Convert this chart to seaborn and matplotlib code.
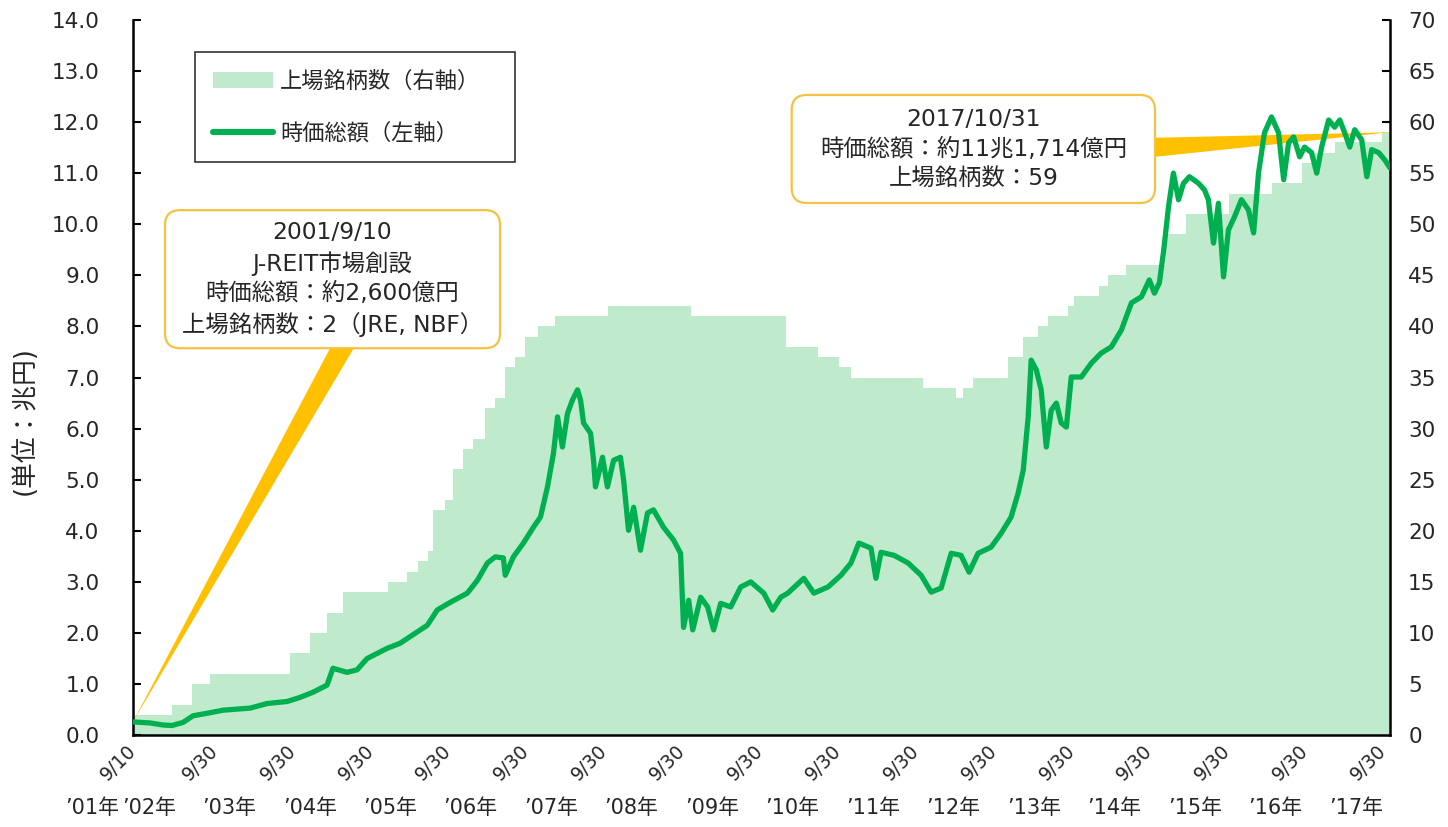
import matplotlib
matplotlib.use('Agg')
import matplotlib.pyplot as plt
import matplotlib.dates as mdates
from matplotlib.patches import Patch, Polygon, FancyBboxPatch
from matplotlib.lines import Line2D
import seaborn as sns
import pandas as pd
import numpy as np

# 時価総額 (兆円)
cap_dates = [
    '2001-09-10', '2001-11-29', '2002-01-29', '2002-03-12', '2002-05-03', '2002-06-19',
    '2002-09-07', '2002-11-07', '2003-03-14', '2003-06-01', '2003-09-03', '2003-11-03',
    '2004-01-02', '2004-03-08', '2004-04-05', '2004-06-10', '2004-07-27', '2004-09-12',
    '2004-12-15', '2005-02-14', '2005-05-19', '2005-06-21', '2005-08-07', '2005-10-07',
    '2005-12-26', '2006-02-11', '2006-03-30', '2006-05-06', '2006-06-13', '2006-06-22',
    '2006-07-30', '2006-09-15', '2006-11-01', '2006-12-04', '2007-01-06', '2007-02-03',
    '2007-02-22', '2007-03-17', '2007-04-10', '2007-05-03', '2007-05-27', '2007-06-10',
    '2007-06-24', '2007-07-27', '2007-08-10', '2007-08-19', '2007-09-21', '2007-10-14',
    '2007-11-12', '2007-12-14', '2007-12-29', '2008-01-21', '2008-02-14', '2008-03-17',
    '2008-04-19', '2008-05-17', '2008-07-03', '2008-08-19', '2008-09-21', '2008-10-05',
    '2008-10-29', '2008-11-17', '2008-12-24', '2009-01-26', '2009-02-23', '2009-03-28',
    '2009-05-14', '2009-06-30', '2009-08-16', '2009-10-16', '2009-11-27', '2010-01-04',
    '2010-02-06', '2010-04-22', '2010-06-08', '2010-08-13', '2010-10-13', '2010-11-29',
    '2011-01-05', '2011-03-03', '2011-03-26', '2011-04-19', '2011-06-19', '2011-08-24',
    '2011-10-24', '2011-12-10', '2012-01-26', '2012-03-13', '2012-04-28', '2012-06-05',
    '2012-07-17', '2012-09-16', '2012-11-02', '2012-12-19', '2013-01-21', '2013-02-14',
    '2013-03-09', '2013-03-23', '2013-04-16', '2013-05-09', '2013-06-02', '2013-06-25',
    '2013-07-19', '2013-08-11', '2013-09-04', '2013-09-27', '2013-11-13', '2013-12-30',
    '2014-02-15', '2014-04-03', '2014-05-20', '2014-07-06', '2014-08-22', '2014-09-28',
    '2014-10-22', '2014-11-14', '2014-12-03', '2014-12-27', '2015-01-19', '2015-02-12',
    '2015-03-07', '2015-04-04', '2015-05-17', '2015-06-14', '2015-07-02', '2015-07-26',
    '2015-08-18', '2015-09-11', '2015-10-04', '2015-11-01', '2015-12-04', '2016-01-06',
    '2016-01-30', '2016-02-22', '2016-03-21', '2016-04-23', '2016-05-26', '2016-06-19',
    '2016-07-12', '2016-08-05', '2016-09-02', '2016-09-25', '2016-10-28', '2016-11-21',
    '2016-12-14', '2017-01-16', '2017-02-13', '2017-03-09', '2017-04-01', '2017-04-25',
    '2017-05-18', '2017-06-20', '2017-07-14', '2017-08-06', '2017-09-08', '2017-10-06',
    '2017-10-31',
]
cap_values = [
    0.26, 0.24, 0.20, 0.19, 0.25, 0.38,
    0.44, 0.49, 0.53, 0.62, 0.66, 0.74,
    0.84, 0.98, 1.31, 1.23, 1.28, 1.50,
    1.70, 1.80, 2.06, 2.15, 2.45, 2.60,
    2.78, 3.03, 3.37, 3.49, 3.47, 3.13,
    3.49, 3.76, 4.07, 4.27, 4.86, 5.52,
    6.23, 5.64, 6.30, 6.56, 6.76, 6.56,
    6.11, 5.91, 5.38, 4.86, 5.44, 4.86,
    5.38, 5.44, 4.99, 4.01, 4.46, 3.62,
    4.35, 4.41, 4.07, 3.82, 3.56, 2.11,
    2.64, 2.06, 2.70, 2.51, 2.06, 2.58,
    2.51, 2.90, 3.00, 2.78, 2.45, 2.70,
    2.78, 3.07, 2.78, 2.90, 3.13, 3.37,
    3.76, 3.66, 3.07, 3.58, 3.52, 3.37,
    3.13, 2.80, 2.88, 3.56, 3.52, 3.19,
    3.56, 3.68, 3.95, 4.27, 4.74, 5.19,
    6.23, 7.34, 7.15, 6.76, 5.64, 6.36,
    6.50, 6.11, 6.03, 7.01, 7.01, 7.28,
    7.48, 7.60, 7.93, 8.46, 8.58, 8.91,
    8.65, 8.85, 9.44, 10.34, 11.00, 10.48,
    10.80, 10.93, 10.80, 10.67, 10.48, 9.63,
    10.41, 8.97, 9.89, 10.14, 10.48, 10.28,
    9.83, 11.00, 11.79, 12.10, 11.79, 10.87,
    11.59, 11.71, 11.32, 11.51, 11.40, 11.00,
    11.51, 12.04, 11.90, 12.04, 11.79, 11.51,
    11.85, 11.65, 10.93, 11.46, 11.40, 11.26,
    11.10,
]

# 上場銘柄数, date of each change and the new count
count_dates = [
    '2001-09-10', '2002-03-12', '2002-06-14', '2002-09-07', '2003-09-17', '2003-12-19',
    '2004-03-08', '2004-05-22', '2004-12-20', '2005-03-19', '2005-05-10', '2005-06-26',
    '2005-07-19', '2005-09-13', '2005-10-21', '2005-12-07', '2006-01-23', '2006-03-20',
    '2006-05-06', '2006-06-22', '2006-08-08', '2006-09-24', '2006-11-24', '2007-02-12',
    '2007-10-19', '2008-11-07', '2010-01-27', '2010-06-27', '2010-10-03', '2010-11-29',
    '2011-11-02', '2012-04-05', '2012-05-08', '2012-06-24', '2012-12-05', '2013-02-14',
    '2013-04-25', '2013-06-11', '2013-09-13', '2013-10-11', '2014-02-06', '2014-03-20',
    '2014-06-12', '2014-12-17', '2015-03-21', '2015-10-09', '2016-04-23', '2016-09-11',
    '2016-11-11', '2017-02-13', '2017-09-22',
]
count_values = [
    2, 3, 5, 6, 8, 10,
    12, 14, 15, 16, 17, 18,
    22, 23, 26, 28, 29, 32,
    33, 36, 37, 39, 40, 41,
    42, 41, 38, 37, 36, 35,
    34, 33, 34, 35, 37, 39,
    40, 41, 42, 43, 44, 45,
    46, 49, 51, 53, 54, 56,
    57, 58, 59,
]

start_date = '2001-09-10'
end_date = '2017-10-31'
tick_dates = [start_date] + [f'{y}-09-30' for y in range(2002, 2018)]
tick_labels = ['9/10'] + ['9/30'] * 16
year_labels = ['’01年'] + [f'’{y % 100:02d}年' for y in range(2002, 2018)]

legend_labels = ['上場銘柄数（右軸）', '時価総額（左軸）']
note_start = '2001/9/10\nJ-REIT市場創設\n時価総額：約2,600億円\n上場銘柄数：2（JRE, NBF）'
note_end = '2017/10/31\n時価総額：約11兆1,714億円\n上場銘柄数：59'

GREEN = '#00B050'
FILL = '#BFEBCC'
GOLD = '#FFC000'
BOX_EDGE = '#F5C342'
TXT = '#262626'

sns.set_theme(style='white')
plt.rcParams['font.family'] = ['DejaVu Sans', 'Noto Sans CJK JP']

fig, ax = plt.subplots(figsize=(14.48, 8.27), dpi=100)
fig.subplots_adjust(left=0.0918, right=0.96, bottom=0.111, top=0.976)
ax2 = ax.twinx()
ax.set_zorder(ax2.get_zorder() + 1)
ax.patch.set_visible(False)

# listings, step area on the right axis
cnt = pd.DataFrame({'date': pd.to_datetime(count_dates + [end_date]),
                    'n': count_values + [count_values[-1]]})
ax2.fill_between(cnt['date'], cnt['n'], step='post', color=FILL, linewidth=0)

# market cap line on the left axis
cap = pd.DataFrame({'date': pd.to_datetime(cap_dates), 'cap': cap_values})
sns.lineplot(data=cap, x='date', y='cap', ax=ax, color=GREEN, linewidth=3.8,
             legend=False, zorder=3)

ax.set_xlim(pd.Timestamp(start_date), pd.Timestamp(end_date))
ax.set_ylim(0, 14)
ax2.set_ylim(0, 70)
ax.set_xlabel('')
ax.set_ylabel('')

ax.set_yticks(np.arange(0, 14.1, 1))
ax.set_yticklabels([f'{v:.1f}' for v in np.arange(0, 14.1, 1)])
ax2.set_yticks(range(0, 71, 5))
ax.tick_params(axis='y', left=True, direction='in', length=6, width=1.5,
               pad=24, labelsize=15.5, labelcolor=TXT, color='black')
ax2.tick_params(axis='y', right=True, direction='in', length=6, width=1.5,
                pad=13, labelsize=15.5, labelcolor=TXT, color='black')

ax.set_xticks(pd.to_datetime(tick_dates))
ax.set_xticklabels(tick_labels, rotation=45, ha='right', va='center',
                   rotation_mode='anchor', fontsize=13.5, color=TXT)
ax.tick_params(axis='x', bottom=True, length=0, pad=9)

for a in (ax, ax2):
    for s in a.spines.values():
        s.set_visible(False)
for s in (ax.spines['left'], ax.spines['bottom'], ax2.spines['right']):
    s.set_visible(True)
    s.set_color('black')
    s.set_linewidth(1.8)

# year labels under the date ticks
year_x0 = -0.032
year_first = 0.0127
year_step = 0.064
for i, lab in enumerate(year_labels):
    xf = year_x0 if i == 0 else year_first + year_step * (i - 1)
    ax.text(xf, -0.102, lab, transform=ax.transAxes, ha='center', va='center',
            fontsize=15, color=TXT)

fig.text(0.017, 0.492, '(単位：兆円)', rotation=90, ha='center', va='center',
         fontsize=18.5, color=TXT)

# legend
handles = [Patch(facecolor=FILL, edgecolor='none', label=legend_labels[0]),
           Line2D([], [], color=GREEN, lw=4.4, label=legend_labels[1])]
leg = ax.legend(handles=handles, loc='upper left',
                bbox_to_anchor=(0.049, 0.3, 0.2546, 0.655), mode='expand',
                fontsize=16, frameon=True, fancybox=False, edgecolor='black',
                handlelength=2.7, handleheight=0.75, handletextpad=0.3,
                labelspacing=1.35, borderpad=0.85, borderaxespad=0)
leg.get_frame().set_linewidth(1.2)
for t in leg.get_texts():
    t.set_color(TXT)


def to_axes(a, x, y):
    # data point -> axes fraction of the main axes
    disp = a.transData.transform((x, y))
    return ax.transAxes.inverted().transform(disp)


def callout(box, text, base, tip):
    x0, y0, x1, y1 = box
    ax.add_patch(Polygon([base[0], base[1], tip], closed=True, transform=ax.transAxes,
                         facecolor=GOLD, edgecolor='none', zorder=1.5))
    ax.add_patch(FancyBboxPatch((x0, y0), x1 - x0, y1 - y0,
                                boxstyle='round,pad=0,rounding_size=0.012',
                                mutation_aspect=1257 / 715, transform=ax.transAxes,
                                facecolor='white', edgecolor=BOX_EDGE, lw=1.6, zorder=4))
    ax.text((x0 + x1) / 2, (y0 + y1) / 2, text, transform=ax.transAxes, ha='center',
            va='center', fontsize=16.8, linespacing=1.35, color=TXT, zorder=5)


fig.canvas.draw()
tip1 = to_axes(ax, mdates.date2num(pd.Timestamp(cap_dates[0])), cap_values[0])
tip2 = to_axes(ax2, mdates.date2num(pd.Timestamp(end_date)), count_values[-1])

callout((0.0255, 0.541, 0.292, 0.734), note_start,
        ((0.158, 0.545), (0.177, 0.545)), tip1)
callout((0.524, 0.744, 0.813, 0.895), note_end,
        ((0.81, 0.808), (0.81, 0.835)), tip2)

fig.savefig('out.png', dpi=100)
